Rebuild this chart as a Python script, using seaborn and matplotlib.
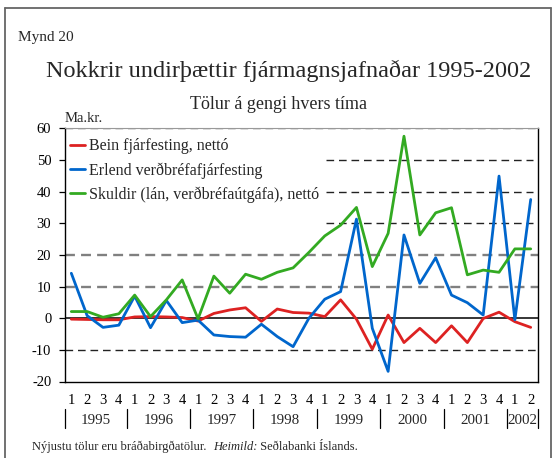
import numpy as np
import pandas as pd
import matplotlib
matplotlib.use("Agg")
import matplotlib.pyplot as plt
from matplotlib.lines import Line2D
import matplotlib.transforms as mtransforms
import seaborn as sns

# ---------------- data ----------------
quarters = ["1", "2", "3", "4"] * 7 + ["1", "2"]
years = ["1995", "1996", "1997", "1998", "1999", "2000", "2001", "2002"]
series_names = ["Bein fjárfesting, nettó",
                "Erlend verðbréfafjárfesting",
                "Skuldir (lán, verðbréfaútgáfa), nettó"]
bein = [-0.3, -0.4, -0.5, -0.5, 0.4, 0.5, 0.4, 0.2,
        -0.9, 1.5, 2.6, 3.3, -1.0, 2.9, 1.8, 1.6,
        0.5, 5.8, -0.3, -9.8, 1.0, -7.7, -3.2, -7.7,
        -2.4, -7.7, -0.1, 1.9, -1.1, -2.9]
erlend = [14.2, 0.8, -2.9, -2.2, 7.0, -3.0, 5.6, -1.4,
          -0.6, -5.3, -5.8, -6.0, -1.9, -5.8, -9.0, 0.0,
          6.0, 8.4, 31.3, -3.2, -16.8, 26.3, 11.0, 19.1,
          7.3, 4.9, 1.0, 44.9, -0.5, 37.5]
skuldir = [2.1, 2.1, 0.3, 1.4, 7.3, 0.5, 5.8, 12.1,
           -0.2, 13.3, 7.9, 13.9, 12.3, 14.5, 15.9, 20.8,
           26.0, 29.4, 35.0, 16.3, 26.8, 57.5, 26.3, 33.3,
           34.9, 13.7, 15.2, 14.5, 21.9, 21.9]
colors = ["#dd2222", "#0066cc", "#33aa22"]
yticks = [-20, -10, 0, 10, 20, 30, 40, 50, 60]

# ---------------- figure ----------------
sns.set_theme(style="white")
plt.rcParams["font.family"] = ["Liberation Serif", "DejaVu Serif"]

W, H = 556, 458
fig = plt.figure(figsize=(W / 100, H / 100), dpi=100)

def fx(x):
    return x / W

def fy(y):
    return 1 - y / H

ax_l, ax_r, ax_t, ax_b = 64.5, 538.0, 128.3, 381.5
ax = fig.add_axes([fx(ax_l), fy(ax_b), (ax_r - ax_l) / W, (ax_b - ax_t) / H])

n = len(bein)
idx = np.arange(n)
df = pd.DataFrame({
    "x": np.concatenate([idx, idx, idx]),
    "v": bein + erlend + skuldir,
    "s": [series_names[0]] * n + [series_names[1]] * n + [series_names[2]] * n,
})

x0, x1 = -0.43, n - 1 + 0.46

# grid lines
ax.axhline(-10, color="#222222", lw=1.0, ls=(0, (5.5, 3.5)), zorder=1)
for g in [10, 20]:
    ax.axhline(g, color="#808080", lw=1.7, ls=(0, (4.2, 2.6)), zorder=1)
for g in [30, 40, 50]:
    ax.axhline(g, xmin=(16.1 - x0) / (x1 - x0), xmax=0.99, color="#222222",
               lw=1.0, ls=(0, (5.5, 3.5)), zorder=1)
ax.axhline(60, color="#555555", lw=1.0, ls=(0, (5.5, 3.5)), zorder=1)
ax.axhline(0, color="black", lw=1.1, zorder=2)

sns.lineplot(data=df, x="x", y="v", hue="s", palette=colors, sort=False,
             lw=2.0, ax=ax, zorder=3, legend=False)

ax.set_xlim(x0, x1)
ax.set_ylim(-20, 60)
ax.set_yticks(yticks)
ax.set_yticklabels([str(t) for t in yticks], fontsize=10.5)
ax.set_xticks(idx)
ax.set_xticklabels(quarters, fontsize=10.5)
ax.tick_params(axis="y", direction="out", length=4, width=0.9, pad=5.5,
               left=True, colors="black")
ax.tick_params(axis="x", length=0, pad=9, colors="black")
ax.set_xlabel("")
ax.set_ylabel("")
for side in ["left", "right", "bottom"]:
    ax.spines[side].set_visible(True)
    ax.spines[side].set_color("black")
    ax.spines[side].set_linewidth(1.0)
ax.spines["top"].set_visible(True)
ax.spines["top"].set_color("#999999")
ax.spines["top"].set_linewidth(0.8)

handles = [Line2D([0], [0], color=c, lw=2.0) for c in colors]
ax.legend(handles, series_names, loc="upper left", bbox_to_anchor=(0.012, 0.96),
          frameon=False, fontsize=11.5, handlelength=0.95, handletextpad=0.2,
          labelspacing=0.48, borderaxespad=0, borderpad=0)

# year separators and labels
trans = mtransforms.blended_transform_factory(ax.transData, ax.transAxes)
seps = [x0] + [4 * k + 3.5 for k in range(len(years) - 1)] + [x1]
ys0 = (ax_b - 409) / (ax_b - ax_t)
ys1 = (ax_b - 428) / (ax_b - ax_t)
yl = (ax_b - 420) / (ax_b - ax_t)
for s in seps:
    ax.add_line(Line2D([s, s], [ys0, ys1], transform=trans, color="black",
                       lw=0.9, clip_on=False))
for k, yr in enumerate(years):
    ax.text((seps[k] + seps[k + 1]) / 2, yl, yr, transform=trans, ha="center",
            va="center", fontsize=10.8)

# texts
fig.text(fx(18), fy(41), "Mynd 20", fontsize=11, ha="left", va="baseline")
fig.text(fx(289), fy(77), "Nokkrir undirþættir fjármagnsjafnaðar 1995-2002",
         fontsize=17.5, ha="center", va="baseline")
fig.text(fx(279), fy(109), "Tölur á gengi hvers tíma", fontsize=13,
         ha="center", va="baseline")
fig.text(fx(65), fy(122), "Ma.kr.", fontsize=10.5, ha="left", va="baseline")
t1 = fig.text(fx(32), fy(450), "Nýjustu tölur eru bráðabirgðatölur.  ",
              fontsize=9, ha="left", va="baseline")
fig.canvas.draw()
bb = t1.get_window_extent()
t2 = fig.text(bb.x1 / W, fy(450), "Heimild:", fontsize=9, style="italic",
              ha="left", va="baseline")
fig.canvas.draw()
bb2 = t2.get_window_extent()
fig.text(bb2.x1 / W, fy(450), " Seðlabanki Íslands.", fontsize=9,
         ha="left", va="baseline")

# outer frame
for (xa, ya, xb, yb) in [(5, 8, 551, 8), (5, 8, 5, 460), (551, 8, 551, 460)]:
    fig.add_artist(Line2D([fx(xa), fx(xb)], [fy(ya), fy(yb)], color="#666666",
                          lw=1.3, transform=fig.transFigure))

fig.savefig("out.png", dpi=100)
